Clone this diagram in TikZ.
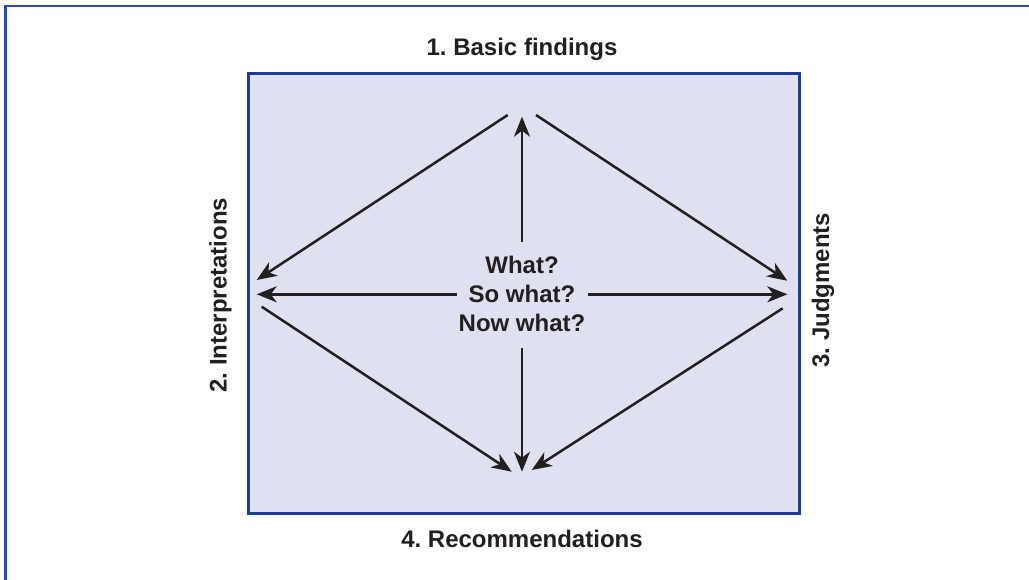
\documentclass[tikz,border=0pt]{standalone}
\usepackage{fontspec}
\setmainfont{Liberation Sans}
\frenchspacing
\usetikzlibrary{arrows.meta}
\definecolor{frameblue}{RGB}{40,75,170}
\definecolor{boxblue}{RGB}{30,60,150}
\definecolor{boxfill}{RGB}{223,224,240}
\definecolor{ink}{RGB}{35,31,32}
\tikzset{
  lbl/.style={font=\fontsize{24}{29.3}\selectfont\bfseries, text=ink, inner sep=0pt},
  arr/.style={draw=ink, line width=2.5pt, -{Stealth[length=20pt,width=16pt,inset=6pt]}},
}
\begin{document}
\begin{tikzpicture}[x=1pt,y=-1pt]
\useasboundingbox (0,0) rectangle (1029,579);
% outer frame (top and left visible)
\draw[frameblue, line width=2.2pt] (5.5,585) -- (5.5,6) -- (1035,6);
% inner box
\node[draw=boxblue, fill=boxfill, line width=3pt, minimum width=551pt, minimum height=440pt, inner sep=0pt, anchor=north west] (box) at (246.5,72) {};
% labels
\node[lbl, anchor=base] (top) at (522,55) {1. Basic findings};
\node[lbl, anchor=base] (bottom) at (522,547) {4. Recommendations};
\node[lbl, anchor=base, rotate=90] (left) at (226.5,295) {2. Interpretations};
\node[lbl, anchor=base, rotate=90] (right) at (829,290) {3. Judgments};
% centre text
\node[lbl, anchor=base] (what) at (522,273.3) {What?};
\node[lbl, anchor=base] (sowhat) at (522,302) {So what?};
\node[lbl, anchor=base] (nowwhat) at (522,331.7) {Now what?};
% arrow end points
\coordinate (upS) at (522,241.7);
\coordinate (upT) at (522,116.7);
\coordinate (dnS) at (522,347.7);
\coordinate (dnT) at (522,471.7);
\coordinate (lS) at (456.7,294.3);
\coordinate (lT) at (256.7,294.3);
\coordinate (rS) at (588.3,294.3);
\coordinate (rT) at (787.3,294.3);
\coordinate (ulS) at (507.7,115);
\coordinate (ulT) at (256.7,280);
\coordinate (urS) at (536,115);
\coordinate (urT) at (787.3,280.7);
\coordinate (llS) at (261.7,306.7);
\coordinate (llT) at (511.7,471.7);
\coordinate (lrS) at (782.7,308.3);
\coordinate (lrT) at (531.7,470);
\draw[arr] (upS) -- (upT);
\draw[arr] (dnS) -- (dnT);
\draw[arr] (lS) -- (lT);
\draw[arr] (rS) -- (rT);
\draw[arr] (ulS) -- (ulT);
\draw[arr] (urS) -- (urT);
\draw[arr] (llS) -- (llT);
\draw[arr] (lrS) -- (lrT);
\end{tikzpicture}
\end{document}
